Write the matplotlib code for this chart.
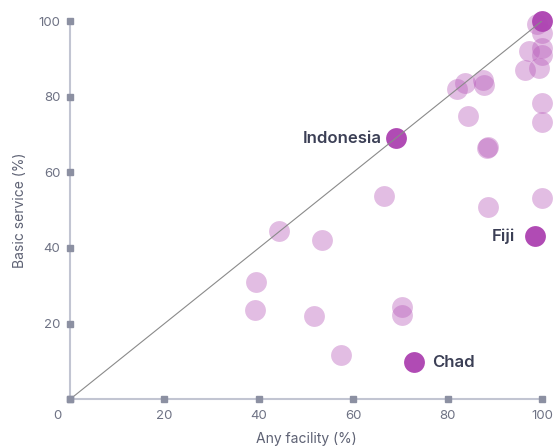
import matplotlib
matplotlib.use("Agg")
import matplotlib.pyplot as plt

# ---- data ----
any_facility = [39.5, 39.2, 44.3, 51.7, 53.4, 57.4, 66.5, 70.3, 70.3, 84.3,
                88.3, 88.5, 88.6, 100.0, 100.0, 100.0, 81.9, 83.7, 87.6, 87.8,
                96.4, 97.2, 99.4, 100.0, 100.0, 100.0, 98.9]
basic_service = [31.1, 23.6, 44.4, 22.0, 42.1, 11.6, 53.8, 24.5, 22.3, 75.0,
                 66.5, 66.8, 50.9, 53.2, 73.2, 78.4, 81.9, 83.7, 84.4, 83.1,
                 87.0, 92.2, 87.5, 91.0, 92.8, 96.7, 99.2]

hl_names = ["Indonesia", "Fiji", "Chad", ""]
hl_x = [69.1, 98.5, 72.9, 100.0]
hl_y = [69.0, 43.2, 9.8, 100.0]
# label offsets (pixels) and alignment
hl_dx = [-14, -20, 18, 0]
hl_ha = ["right", "right", "left", "left"]

ticks = [0, 20, 40, 60, 80, 100]
tick_labels = ["", "20", "40", "60", "80", "100"]
ytick_labels = ["", "20", "40", "60", "80", "100"]

FONT = "Inter"
plt.rcParams["font.family"] = [FONT, "DejaVu Sans"]

fig = plt.figure(figsize=(5.54, 4.48), dpi=100)
ax = fig.add_axes([70 / 554, 48.7 / 448, (542 - 70) / 554, (399.3 - 21) / 448])

ax.set_xlim(0, 100)
ax.set_ylim(0, 100)

light = "#b75ab9"
dark = "#ae45b2"
ax.scatter(any_facility, basic_service, s=225, color=light, alpha=0.4,
           linewidths=0, zorder=2, clip_on=False)
ax.scatter(hl_x, hl_y, s=225, color=dark, alpha=0.97, linewidths=0,
           zorder=2.5, clip_on=False)

ax.plot([0, 100], [0, 100], color="#8a8a8a", lw=0.8, zorder=3)

for name, x, y, dx, ha in zip(hl_names, hl_x, hl_y, hl_dx, hl_ha):
    if name:
        ax.annotate(name, xy=(x, y), xytext=(dx * 0.72, 0),
                    textcoords="offset points", ha=ha, va="center",
                    fontsize=12, fontweight="semibold", color="#3b3f55",
                    zorder=4)

for side in ["top", "right"]:
    ax.spines[side].set_visible(False)
for side in ["left", "bottom"]:
    ax.spines[side].set_color("#c2c5d2")
    ax.spines[side].set_linewidth(1.5)

ax.set_xticks(ticks)
ax.set_xticklabels(tick_labels)
ax.set_yticks(ticks)
ax.set_yticklabels(ytick_labels)
ax.tick_params(length=0, labelsize=9.5, labelcolor="#6e7284")
ax.tick_params(axis="x", pad=8)
ax.tick_params(axis="y", pad=7)

# square tick markers on the axes
zeros = [0] * len(ticks)
ax.plot(ticks, zeros, "s", ms=4.2, color="#8c90a2", clip_on=False, zorder=5)
ax.plot(zeros, ticks, "s", ms=4.2, color="#8c90a2", clip_on=False, zorder=5)

# shared origin label
ax.annotate("0", xy=(0, 0), xytext=(-13 * 0.72, -17 * 0.72),
            textcoords="offset points", ha="center", va="center",
            fontsize=9.5, color="#6e7284")

ax.set_xlabel("Any facility (%)", fontsize=10, color="#5e6274", labelpad=7)
ax.set_ylabel("Basic service (%)", fontsize=10, color="#5e6274", labelpad=8)

fig.savefig("out.png", dpi=100)
